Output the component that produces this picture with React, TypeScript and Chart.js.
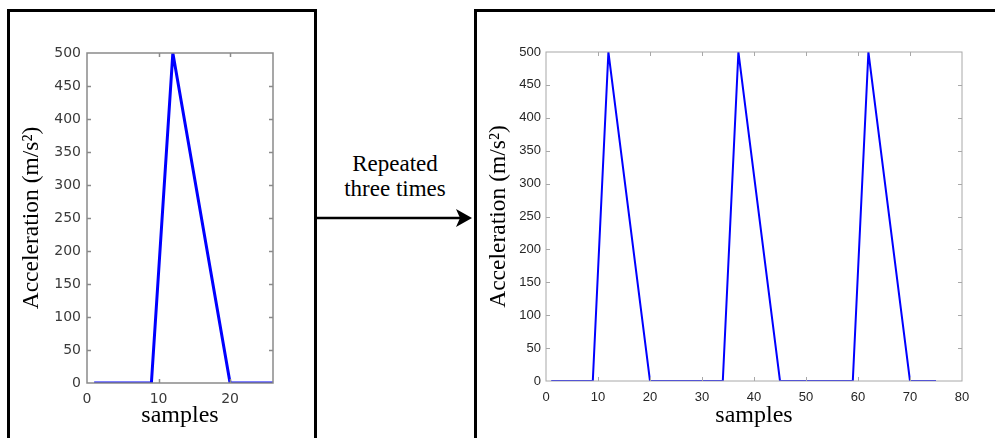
import React, { useEffect, useRef } from "react";
import { Chart, registerables } from "chart.js";

Chart.register(...registerables);

// ---- Data ----
const singleSamples = [1, 9, 12, 20, 26];
const singleAccel = [0, 0, 500, 0, 0];

const repeatedSamples = [1, 9, 12, 20, 34, 37, 45, 59, 62, 70, 75];
const repeatedAccel = [0, 0, 500, 0, 0, 500, 0, 0, 500, 0, 0];

const yTitle = "Acceleration (m/s²)";
const xTitle = "samples";
const arrowLines = ["Repeated", "three times"];

const framePlugin = {
  id: "frame",
  afterDraw(chart: any, _args: any, opts: any) {
    const { ctx, chartArea } = chart;
    const { left, right, top, bottom } = chartArea;
    const len = opts.tickLen ?? 4;
    ctx.save();
    ctx.strokeStyle = opts.color ?? "#999";
    ctx.lineWidth = opts.width ?? 1;
    ctx.beginPath();
    const xs = chart.scales.x;
    xs.ticks.forEach((t: any) => {
      const px = Math.round(xs.getPixelForValue(t.value)) + 0.5;
      if (px <= left + 1 || px >= right - 1) return;
      ctx.moveTo(px, bottom);
      ctx.lineTo(px, bottom - len);
      ctx.moveTo(px, top);
      ctx.lineTo(px, top + len);
    });
    const ys = chart.scales.y;
    ys.ticks.forEach((t: any) => {
      const py = Math.round(ys.getPixelForValue(t.value)) + 0.5;
      if (py <= top + 1 || py >= bottom - 1) return;
      ctx.moveTo(left, py);
      ctx.lineTo(left + len, py);
      ctx.moveTo(right, py);
      ctx.lineTo(right - len, py);
    });
    ctx.stroke();
    ctx.strokeRect(left, top, right - left, bottom - top);
    ctx.restore();
  },
};

type PanelCfg = {
  xs: number[];
  ys: number[];
  xMax: number;
  yAxisWidth: number;
  xAxisHeight: number;
  padRight: number;
  padTop: number;
  lineWidth: number;
  tickFont: any;
  tickColor: string;
  xTickPad: number;
  yTickPad: number;
  frameColor: string;
  frameWidth: number;
};

function Panel({ cfg, width, height }: { cfg: PanelCfg; width: number; height: number }) {
  const ref = useRef<HTMLCanvasElement | null>(null);
  useEffect(() => {
    if (!ref.current) return;
    const data = cfg.xs.map((x, i) => ({ x, y: cfg.ys[i] }));
    const chart = new Chart(ref.current, {
      type: "line",
      data: {
        datasets: [
          {
            data,
            borderColor: "#0000ff",
            borderWidth: cfg.lineWidth,
            pointRadius: 0,
            tension: 0,
            fill: false,
          },
        ],
      },
      options: {
        animation: false,
        responsive: false,
        devicePixelRatio: 1,
        layout: { padding: { left: 0, top: cfg.padTop, right: cfg.padRight, bottom: 0 } },
        plugins: {
          legend: { display: false },
          tooltip: { enabled: false },
          frame: { color: cfg.frameColor, width: cfg.frameWidth, tickLen: 4 },
        } as any,
        scales: {
          x: {
            type: "linear",
            min: 0,
            max: cfg.xMax,
            grid: { display: false, drawTicks: false },
            border: { display: false },
            ticks: {
              stepSize: 10,
              includeBounds: false,
              font: cfg.tickFont,
              color: cfg.tickColor,
              padding: cfg.xTickPad,
              maxRotation: 0,
            },
            title: {
              display: true,
              text: xTitle,
              color: "#000",
              font: { family: "Liberation Serif", size: 24 },
              padding: { top: 0, bottom: 8 },
            },
            afterFit(scale: any) {
              scale.height = cfg.xAxisHeight;
            },
          },
          y: {
            min: 0,
            max: 500,
            grid: { display: false, drawTicks: false },
            border: { display: false },
            ticks: {
              stepSize: 50,
              font: cfg.tickFont,
              color: cfg.tickColor,
              padding: cfg.yTickPad,
            },
            title: {
              display: true,
              text: yTitle,
              color: "#000",
              font: { family: "Liberation Serif", size: 23.5 },
              padding: { top: 8, bottom: 0 },
            },
            afterFit(scale: any) {
              scale.width = cfg.yAxisWidth;
            },
          },
        },
      },
      plugins: [framePlugin],
    });
    return () => chart.destroy();
  }, []);
  return <canvas ref={ref} width={width} height={height} style={{ width, height, display: "block" }} />;
}

const leftCfg: PanelCfg = {
  xs: singleSamples,
  ys: singleAccel,
  xMax: 26,
  yAxisWidth: 77,
  xAxisHeight: 55,
  padRight: 41,
  padTop: 41,
  lineWidth: 3,
  tickFont: { family: "DejaVu Sans", size: 14 },
  tickColor: "#3a3a3a",
  xTickPad: 8,
  yTickPad: 6,
  frameColor: "#8a8a8a",
  frameWidth: 1.5,
};

const rightCfg: PanelCfg = {
  xs: repeatedSamples,
  ys: repeatedAccel,
  xMax: 80,
  yAxisWidth: 69,
  xAxisHeight: 57,
  padRight: 33,
  padTop: 40,
  lineWidth: 2,
  tickFont: { family: "Liberation Sans", size: 13 },
  tickColor: "#262626",
  xTickPad: 9,
  yTickPad: 5,
  frameColor: "#a8a8a8",
  frameWidth: 1,
};

export default function App() {
  return (
    <div
      style={{
        position: "fixed",
        left: 0,
        top: 0,
        width: 995,
        height: 438,
        overflow: "hidden",
        background: "#fff",
      }}
    >
      <div
        style={{
          position: "absolute",
          left: 7,
          top: 9,
          width: 304,
          height: 520,
          border: "3px solid #000",
        }}
      />
      <div
        style={{
          position: "absolute",
          left: 474,
          top: 9,
          width: 600,
          height: 520,
          border: "3px solid #000",
        }}
      />
      <div style={{ position: "absolute", left: 10, top: 12 }}>
        <Panel cfg={leftCfg} width={304} height={426} />
      </div>
      <div style={{ position: "absolute", left: 477, top: 12 }}>
        <Panel cfg={rightCfg} width={518} height={426} />
      </div>
      <div
        style={{
          position: "absolute",
          left: 320,
          top: 151,
          width: 150,
          textAlign: "center",
          fontFamily: "Liberation Serif",
          fontSize: 23,
          lineHeight: "25px",
          color: "#000",
        }}
      >
        {arrowLines.map((l) => (
          <div key={l}>{l}</div>
        ))}
      </div>
      <svg
        style={{ position: "absolute", left: 0, top: 0 }}
        width={995}
        height={438}
      >
        <line x1={317} y1={218} x2={462} y2={218} stroke="#000" strokeWidth={2.5} />
        <polygon points="456,209 472,218 456,227 460,218" fill="#000" />
      </svg>
    </div>
  );
}
